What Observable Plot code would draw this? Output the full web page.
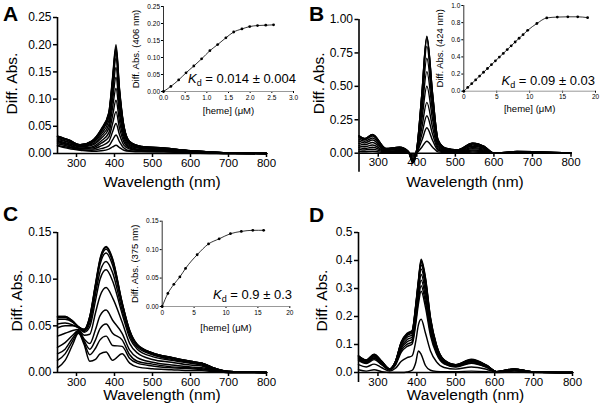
<!DOCTYPE html>
<html><head><meta charset="utf-8">
<script src="https://cdn.jsdelivr.net/npm/d3@7"></script>
<script src="https://cdn.jsdelivr.net/npm/@observablehq/plot@0.6"></script>
<style>
body{margin:0;background:#fff;}
#fig{position:relative;width:600px;height:416px;font-family:"Liberation Sans",Arial,Helvetica,sans-serif;color:#000;}
.lab{position:absolute;font-weight:bold;font-size:21px;line-height:1;}
.kd{position:absolute;font-size:13px;line-height:1;white-space:nowrap;}
.kd sub{font-size:9px;vertical-align:-3px;line-height:0;}
</style></head><body><div id="fig"></div>
<script>
// ---------- Panel A spectra ----------
const wavelengthsA = [250,280,310,340,365,385,395,404,413,425,440,470,530,600,700,800];
const spectraA = [
  [.014,.009,.006,.004,.005,.008,.012,.015,.011,.006,.004,.003,.003,.001,0,0],
  [.015,.011,.007,.006,.009,.014,.025,.034,.022,.010,.005,.004,.003,.002,0,0],
  [.018,.013,.008,.008,.014,.022,.040,.055,.035,.015,.008,.005,.004,.002,0,0],
  [.020,.015,.009,.010,.019,.030,.055,.077,.047,.021,.010,.006,.005,.003,0,0],
  [.022,.016,.010,.012,.023,.038,.070,.098,.060,.026,.012,.007,.006,.003,.001,0],
  [.024,.018,.012,.015,.028,.046,.085,.120,.073,.031,.014,.009,.007,.003,.001,0],
  [.026,.020,.013,.017,.032,.053,.099,.140,.085,.036,.016,.010,.008,.004,.001,0],
  [.028,.021,.014,.019,.036,.060,.111,.158,.095,.040,.018,.011,.008,.004,.001,0],
  [.030,.023,.015,.020,.040,.066,.123,.175,.105,.044,.020,.012,.009,.005,.001,0],
  [.031,.024,.015,.022,.042,.070,.130,.186,.112,.047,.021,.012,.009,.005,.001,0],
  [.031,.024,.016,.022,.043,.072,.134,.192,.115,.048,.021,.013,.010,.005,.001,0],
  [.032,.025,.016,.023,.044,.074,.137,.196,.118,.049,.022,.013,.010,.005,.001,0],
  [.032,.025,.016,.023,.045,.075,.140,.200,.120,.050,.022,.013,.010,.005,.001,0]
];
// ---------- Panel B spectra ----------
const wavelengthsB = [250,265,285,320,355,378,390,400,413,426,441,455,475,505,545,575,600,660,800];
const spectraB = [
  [.013,.011,.014,.004,.005,.001,-.007,.003,.045,.090,.045,.010,.004,.003,.008,.005,0,.001,0],
  [.028,.024,.030,.008,.010,.003,-.015,.007,.095,.190,.095,.022,.008,.005,.016,.011,0,.003,0],
  [.042,.035,.045,.011,.014,.004,-.022,.010,.141,.280,.141,.032,.012,.008,.024,.016,0,.004,0],
  [.056,.048,.061,.015,.020,.005,-.030,.013,.191,.380,.191,.043,.016,.011,.033,.022,0,.005,0],
  [.074,.063,.080,.020,.026,.007,-.040,.017,.251,.500,.251,.057,.021,.014,.043,.029,0,.007,0],
  [.091,.077,.098,.024,.031,.008,-.049,.021,.307,.610,.307,.070,.026,.017,.052,.035,0,.008,0],
  [.105,.089,.114,.028,.036,.010,-.057,.024,.357,.710,.357,.081,.030,.020,.061,.041,0,.010,0],
  [.119,.101,.128,.032,.041,.011,-.064,.027,.402,.800,.402,.091,.034,.023,.069,.046,0,.011,0],
  [.128,.108,.138,.034,.044,.012,-.069,.029,.433,.860,.433,.098,.036,.025,.074,.049,0,.012,0],
  [.129,.109,.139,.035,.045,.012,-.070,.030,.437,.870,.437,.099,.037,.025,.075,.050,0,.012,0],
  [.130,.110,.140,.035,.045,.012,-.070,.030,.440,.875,.440,.100,.037,.025,.075,.050,0,.012,0]
];
// ---------- Panel C spectra ----------
const wavelengthsC = [250,270,290,305,320,335,350,362,378,395,420,440,460,500,550,600,630,660,700,800];
const spectraC = [
  [.005,.013,.030,.042,.030,.012,.014,.020,.022,.013,.020,.010,.006,.004,.003,.002,.002,.001,0,0],
  [.013,.020,.034,.043,.032,.019,.026,.035,.039,.029,.028,.015,.010,.007,.005,.004,.003,.002,0,0],
  [.020,.025,.037,.044,.034,.025,.035,.047,.052,.042,.035,.019,.012,.009,.006,.005,.004,.002,0,0],
  [.027,.032,.040,.045,.036,.031,.046,.061,.067,.056,.042,.024,.016,.011,.008,.006,.005,.003,0,0],
  [.039,.042,.045,.046,.040,.041,.064,.082,.091,.080,.054,.031,.021,.014,.011,.008,.007,.003,.001,0],
  [.048,.050,.050,.048,.043,.049,.077,.100,.110,.098,.063,.037,.025,.017,.013,.010,.008,.004,.001,0],
  [.052,.053,.051,.048,.044,.053,.084,.108,.119,.107,.067,.040,.027,.019,.014,.011,.009,.004,.001,0],
  [.057,.057,.054,.049,.045,.057,.090,.116,.128,.115,.072,.043,.029,.020,.015,.011,.010,.005,.001,0],
  [.059,.059,.054,.049,.046,.059,.093,.119,.132,.119,.074,.044,.029,.021,.016,.012,.010,.005,.001,0],
  [.060,.060,.055,.049,.046,.060,.094,.121,.134,.121,.075,.045,.030,.021,.016,.012,.010,.005,.001,0],
  [.060,.060,.055,.049,.046,.060,.095,.122,.135,.122,.075,.045,.030,.021,.016,.012,.010,.005,.001,0]
];
// ---------- Panel D spectra ----------
const wavelengthsD = [250,270,290,310,330,345,360,375,388,397,404,411,422,435,450,470,500,540,580,605,650,700,800];
const spectraD = [
  [.010,.005,.010,.003,0,0,0,.002,.008,.035,.077,.065,.025,.008,.004,.003,.003,.005,.003,0,.001,0,0],
  [.028,.020,.030,.017,.005,.015,.040,.053,.060,.110,.170,.190,.141,.077,.039,.018,.012,.020,.011,.001,.005,.001,0],
  [.043,.032,.046,.027,.009,.026,.073,.093,.102,.171,.245,.290,.234,.132,.068,.031,.020,.033,.018,.002,.009,.001,0],
  [.046,.034,.050,.030,.009,.029,.079,.101,.110,.183,.259,.310,.252,.144,.073,.033,.021,.035,.019,.002,.010,.001,0],
  [.049,.036,.053,.032,.010,.031,.086,.110,.119,.195,.274,.330,.270,.154,.079,.036,.022,.038,.020,.002,.010,.002,0],
  [.052,.039,.056,.034,.011,.034,.092,.118,.127,.207,.289,.350,.289,.166,.084,.038,.024,.040,.021,.003,.011,.002,0],
  [.055,.041,.059,.036,.012,.036,.099,.126,.135,.219,.304,.370,.308,.177,.090,.041,.025,.043,.023,.003,.012,.002,0],
  [.057,.043,.062,.038,.012,.038,.104,.132,.142,.228,.315,.385,.321,.185,.094,.043,.027,.045,.024,.003,.012,.002,0],
  [.059,.044,.063,.039,.013,.039,.107,.136,.146,.234,.323,.395,.331,.191,.097,.044,.027,.046,.024,.003,.013,.002,0],
  [.059,.044,.064,.039,.013,.039,.108,.138,.148,.237,.326,.400,.335,.193,.099,.044,.028,.046,.025,.003,.013,.002,0],
  [.060,.045,.065,.040,.013,.040,.110,.140,.150,.240,.330,.405,.340,.196,.100,.045,.028,.047,.025,.003,.013,.002,0]
];
// ---------- Inset titrations ----------
const hemeA = [0,0.17,0.35,0.52,0.70,0.88,1.07,1.25,1.44,1.62,1.81,1.99,2.17,2.36,2.54];
const absA  = [0,0.015,0.034,0.055,0.075,0.096,0.120,0.138,0.158,0.175,0.184,0.191,0.194,0.195,0.196];
const hemeB = [0,0.6,1.2,1.8,2.4,3.0,3.6,4.2,4.8,5.4,6.0,6.6,7.2,7.8,8.4,9.0,9.7,11.1,12.6,14.2,15.8,17.3,18.8];
const absB  = [0,0.044,0.088,0.132,0.177,0.221,0.265,0.309,0.354,0.398,0.441,0.486,0.530,0.574,0.618,0.660,0.710,0.790,0.855,0.865,0.868,0.868,0.858];
const hemeC = [0,0.89,1.83,2.77,3.66,5.48,7.26,8.93,10.7,12.4,14.2,15.9];
const absC  = [0,0.023,0.039,0.052,0.067,0.091,0.110,0.119,0.128,0.132,0.134,0.134];
// ---------- Ticks & labels ----------
const xTicksMain = [300,400,500,600,700,800];
const yTicksA = [0,0.05,0.10,0.15,0.20,0.25];
const yTicksB = [0,0.25,0.50,0.75,1.00];
const yTicksC = [0,0.05,0.10,0.15];
const yTicksD = [0,0.1,0.2,0.3,0.4,0.5];
const insetXTicksA = [0,0.5,1.0,1.5,2.0,2.5,3.0];
const insetYTicksA = [0,0.05,0.10,0.15,0.20,0.25];
const insetXTicksB = [0,5,10,15,20];
const insetYTicksB = [0,0.2,0.4,0.6,0.8,1.0];
const insetXTicksC = [0,5,10,15,20];
const insetYTicksC = [0,0.05,0.10,0.15];
const panelLetters = ["A","B","C","D"];
const insetLabels = ["Diff. Abs. (406 nm)","Diff. Abs. (424 nm)","Diff. Abs. (375 nm)"];
const kdTexts = ["0.014 ± 0.004","0.09 ± 0.03","0.9 ± 0.3"];
const xTitle = "Wavelength (nm)";
const yTitle = "Diff. Abs.";
const hemeTitle = "[heme] (μM)";

const fig = document.getElementById("fig");
const FONT = "'Liberation Sans', Arial, Helvetica, sans-serif";

function tidy(w, curves) {
  return curves.flatMap((c, i) => c.map((v, j) => ({w: w[j], v, c: i})));
}
function place(svg, left, top) {
  svg.style.position = "absolute";
  svg.style.left = left + "px";
  svg.style.top = top + "px";
  fig.appendChild(svg);
}
function mainPanel(o) {
  const svg = Plot.plot({
    width: o.width, height: o.height,
    marginLeft: o.ml, marginRight: o.mr, marginTop: o.mt, marginBottom: o.mb,
    x: {domain: [250, 800]},
    y: {domain: [0, o.ymax]},
    style: {fontFamily: FONT, background: "none", overflow: "visible", color: "black"},
    marks: [
      Plot.axisY(o.yTicks, {tickSize: 4, tickPadding: 2, tickFormat: d3.format(o.yFmt), fontSize: 12, label: null, strokeWidth: 1.5}),
      Plot.axisX(xTicksMain, {tickSize: 4, tickPadding: 1, tickFormat: d3.format("d"), fontSize: 11.5, label: null, strokeWidth: 1.5}),
      Plot.ruleY([0], {strokeWidth: 1.6}),
      Plot.ruleX([250], {strokeWidth: 1.6, insetBottom: -o.ext}),
      Plot.line(tidy(o.w, o.curves), {x: "w", y: "v", z: "c", stroke: "black", strokeWidth: 1.45, curve: "monotone-x"}),
      Plot.text([yTitle], {frameAnchor: "left", textAnchor: "middle", lineAnchor: "middle", rotate: -90, dx: o.ydx, dy: o.ydy, fontSize: 15.5}),
      Plot.text([xTitle], {frameAnchor: "bottom", textAnchor: "middle", lineAnchor: "middle", dy: o.xdy, fontSize: 15.5})
    ]
  });
  place(svg, o.left, o.top);
}
function insetPanel(o) {
  const pts = o.heme.map((h, i) => ({h, a: o.abs[i]}));
  const svg = Plot.plot({
    width: o.width, height: o.height,
    marginLeft: o.ml, marginRight: o.mr, marginTop: o.mt, marginBottom: o.mb,
    x: {domain: o.xDomain},
    y: {domain: o.yDomain},
    style: {fontFamily: FONT, background: "none", overflow: "visible", color: "black"},
    marks: [
      Plot.axisY(o.yTicks, {tickSize: 2, tickPadding: 1.5, tickFormat: d3.format(o.yFmt), fontSize: 6.5, label: null}),
      Plot.axisX(o.xTicks, {tickSize: 2, tickPadding: 1.5, tickFormat: d3.format(o.xFmt), fontSize: 6.5, label: null}),
      Plot.ruleY([0], {stroke: "#999", strokeWidth: 1}),
      Plot.ruleX([0], {stroke: "#333", strokeWidth: 1}),
      Plot.line(pts, {x: "h", y: "a", curve: "monotone-x", stroke: "black", strokeWidth: 0.8}),
      Plot.dot(pts, {x: "h", y: "a", r: 1.4, fill: "black", stroke: "none"}),
      Plot.text([o.ylabel], {frameAnchor: "left", textAnchor: "middle", lineAnchor: "middle", rotate: -90, dx: o.ydx, fontSize: 9.5}),
      Plot.text([hemeTitle], {frameAnchor: "bottom", textAnchor: "middle", lineAnchor: "middle", dy: o.xdy, fontSize: 9.5})
    ]
  });
  place(svg, o.left, o.top);
}

// Main spectra panels
mainPanel({left: 0, top: 0, width: 300, height: 200, ml: 57, mr: 34, mt: 17, mb: 47,
  ymax: 0.25, yTicks: yTicksA, yFmt: ".2f", w: wavelengthsA, curves: spectraA, ext: 0, ydx: -45, ydy: -2, xdy: 29});
mainPanel({left: 300, top: 0, width: 300, height: 200, ml: 58.5, mr: 29.5, mt: 19, mb: 47.3,
  ymax: 1.0, yTicks: yTicksB, yFmt: ".2f", w: wavelengthsB, curves: spectraB, ext: 19, ydx: -40, ydy: -3, xdy: 29});
mainPanel({left: 0, top: 200, width: 300, height: 216, ml: 57, mr: 34, mt: 32, mb: 44,
  ymax: 0.15, yTicks: yTicksC, yFmt: ".2f", w: wavelengthsC, curves: spectraC, ext: 0, ydx: -40, ydy: -2, xdy: 23});
mainPanel({left: 300, top: 200, width: 300, height: 216, ml: 58, mr: 28, mt: 32, mb: 44,
  ymax: 0.5, yTicks: yTicksD, yFmt: ".1f", w: wavelengthsD, curves: spectraD, ext: 10, ydx: -36, ydy: -2, xdy: 23});

// Insets
insetPanel({left: 0, top: 0, width: 300, height: 120, ml: 163, mr: 7, mt: 6, mb: 29,
  xDomain: [0, 3], yDomain: [0, 0.25], xTicks: insetXTicksA, yTicks: insetYTicksA, xFmt: ".1f", yFmt: ".2f",
  heme: hemeA, abs: absA, ylabel: insetLabels[0], ydx: -28, xdy: 19});
insetPanel({left: 300, top: 0, width: 300, height: 120, ml: 163.3, mr: 5, mt: 5, mb: 29.3,
  xDomain: [0, 20], yDomain: [0, 1.0], xTicks: insetXTicksB, yTicks: insetYTicksB, xFmt: "d", yFmt: ".1f",
  heme: hemeB, abs: absB, ylabel: insetLabels[1], ydx: -24, xdy: 18});
insetPanel({left: 0, top: 200, width: 300, height: 140, ml: 161.7, mr: 10.7, mt: 20.7, mb: 34,
  xDomain: [0, 20], yDomain: [0, 0.15], xTicks: insetXTicksC, yTicks: insetYTicksC, xFmt: "d", yFmt: ".2f",
  heme: hemeC, abs: absC, ylabel: insetLabels[2], ydx: -27, xdy: 21});

// Panel letters
const letterPos = [[3,3],[309,3],[3,203],[309,204]];
panelLetters.forEach((t, i) => {
  const d = document.createElement("div");
  d.className = "lab";
  d.style.left = letterPos[i][0] + "px";
  d.style.top = letterPos[i][1] + "px";
  d.textContent = t;
  fig.appendChild(d);
});
// Kd annotations
const kdPos = [[188,72],[501.5,73.5],[213,288]];
kdTexts.forEach((t, i) => {
  const d = document.createElement("div");
  d.className = "kd";
  d.style.left = kdPos[i][0] + "px";
  d.style.top = kdPos[i][1] + "px";
  d.innerHTML = "<i>K</i><sub>d</sub> = " + t;
  fig.appendChild(d);
});
</script></body></html>
